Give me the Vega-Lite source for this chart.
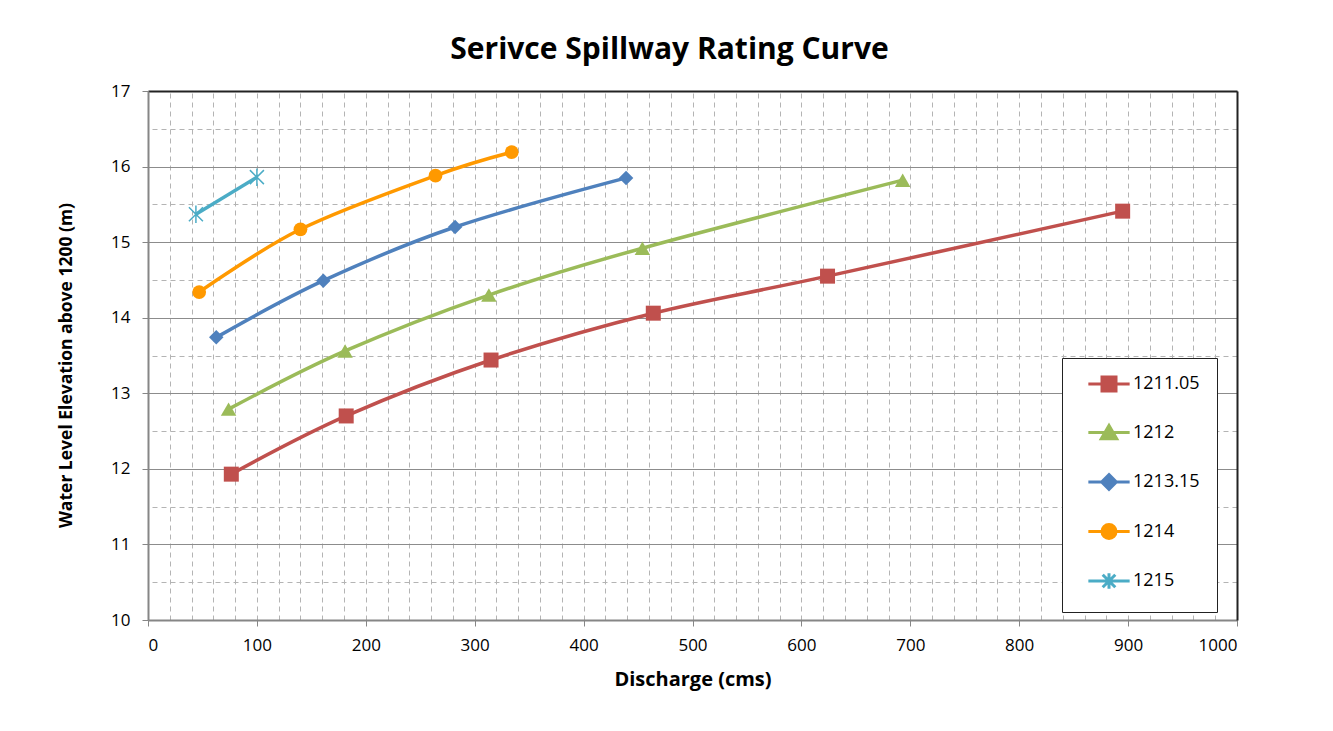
{
  "$schema": "https://vega.github.io/schema/vega-lite/v6.json",
  "autosize": {"type": "none"},
  "padding": {"left": 148, "top": 91, "right": 96, "bottom": 111},
  "width": 1089,
  "height": 529,
  "background": "white",
  "config": {
    "font": "Open Sans",
    "view": {"stroke": null},
    "axis": {"labelFont": "Open Sans", "titleFont": "Open Sans", "labelColor": "black", "titleColor": "black"}
  },
  "title": {
    "text": "Serivce Spillway Rating Curve",
    "fontSize": 30,
    "fontWeight": "bold",
    "font": "Open Sans",
    "color": "black",
    "anchor": "middle",
    "dx": -23,
    "offset": 17
  },
  "data": {
    "values": [
      {"series": "1211.05", "q": 76.5, "h": 11.93},
      {"series": "1211.05", "q": 182, "h": 12.7},
      {"series": "1211.05", "q": 315, "h": 13.44},
      {"series": "1211.05", "q": 464, "h": 14.06},
      {"series": "1211.05", "q": 624, "h": 14.55},
      {"series": "1211.05", "q": 895, "h": 15.41},
      {"series": "1212", "q": 74, "h": 12.79},
      {"series": "1212", "q": 181, "h": 13.56},
      {"series": "1212", "q": 313, "h": 14.3},
      {"series": "1212", "q": 454, "h": 14.92},
      {"series": "1212", "q": 693, "h": 15.82},
      {"series": "1213.15", "q": 62.7, "h": 13.74},
      {"series": "1213.15", "q": 161, "h": 14.49},
      {"series": "1213.15", "q": 282, "h": 15.2},
      {"series": "1213.15", "q": 439, "h": 15.85},
      {"series": "1214", "q": 47, "h": 14.34},
      {"series": "1214", "q": 140, "h": 15.17},
      {"series": "1214", "q": 264, "h": 15.88},
      {"series": "1214", "q": 334, "h": 16.19},
      {"series": "1215", "q": 44, "h": 15.37},
      {"series": "1215", "q": 100, "h": 15.86}
    ]
  },
  "encoding": {
    "x": {"field": "q", "type": "quantitative", "scale": {"domain": [0, 1000], "nice": false, "zero": false}},
    "y": {"field": "h", "type": "quantitative", "scale": {"domain": [10, 17], "nice": false, "zero": false}}
  },
  "layer": [
    {
      "mark": {"type": "line", "interpolate": "cardinal", "strokeWidth": 3.5},
      "encoding": {
        "x": {
          "field": "q", "type": "quantitative",
          "axis": {
            "orient": "bottom", "values": [0, 100, 200, 300, 400, 500, 600, 700, 800, 900, 1000], "format": "d",
            "title": "Discharge (cms)", "titleFontSize": 20, "titleFontWeight": "bold", "titlePadding": 16,
            "grid": false, "domainColor": "#868686", "domainWidth": 2, "tickColor": "#868686", "tickSize": 6,
            "labelFontSize": 17, "labelPadding": 11
          }
        },
        "y": {
          "field": "h", "type": "quantitative",
          "axis": {
            "orient": "left", "values": [10, 11, 12, 13, 14, 15, 16, 17],
            "title": "Water Level Elevation above 1200 (m)", "titleFontSize": 17.5, "titleFontWeight": "bold", "titlePadding": 35, "titleY": 274,
            "grid": true, "gridColor": "#8c8c8c", "gridWidth": 1,
            "domainColor": "#868686", "domainWidth": 2, "tickColor": "#868686", "tickSize": 6,
            "labelFontSize": 17, "labelPadding": 12
          }
        },
        "color": {
          "field": "series", "type": "nominal",
          "scale": {"domain": ["1211.05", "1212", "1213.15", "1214", "1215"], "range": ["#C0504D", "#9BBB59", "#4F81BD", "#FF9900", "#4BACC6"]},
          "legend": null
        }
      }
    },
    {
      "transform": [{"filter": "datum.series === '1211.05'"}],
      "mark": {"type": "point", "shape": "square", "filled": true, "opacity": 1, "size": 225},
      "encoding": {
        "x": {
          "field": "q", "type": "quantitative",
          "axis": {
            "orient": "top", "values": [20, 40, 60, 80, 100, 120, 140, 160, 180, 200, 220, 240, 260, 280, 300, 320, 340, 360, 380, 400, 420, 440, 460, 480, 500, 520, 540, 560, 580, 600, 620, 640, 660, 680, 700, 720, 740, 760, 780, 800, 820, 840, 860, 880, 900, 920, 940, 960, 980],
            "title": null, "labels": false, "ticks": false, "grid": true, "gridDash": [5, 4], "gridColor": "#b4b4b4", "gridWidth": 1,
            "domainColor": "#222222", "domainWidth": 2
          }
        },
        "y": {
          "field": "h", "type": "quantitative",
          "axis": {
            "orient": "right", "values": [10.5, 11.5, 12.5, 13.5, 14.5, 15.5, 16.5],
            "title": null, "labels": false, "ticks": false, "grid": true, "gridDash": [5, 4], "gridColor": "#b4b4b4", "gridWidth": 1,
            "domainColor": "#222222", "domainWidth": 2
          }
        },
        "color": {"field": "series", "type": "nominal", "legend": null}
      }
    },
    {
      "transform": [{"filter": "datum.series === '1212'"}],
      "mark": {"type": "point", "shape": "triangle-up", "filled": true, "opacity": 1, "size": 240},
      "encoding": {
        "x": {"field": "q", "type": "quantitative", "axis": null},
        "y": {"field": "h", "type": "quantitative", "axis": null},
        "color": {"field": "series", "type": "nominal", "legend": null}
      }
    },
    {
      "transform": [{"filter": "datum.series === '1213.15'"}],
      "mark": {"type": "point", "shape": "diamond", "filled": true, "opacity": 1, "size": 210},
      "encoding": {
        "x": {"field": "q", "type": "quantitative", "axis": null},
        "y": {"field": "h", "type": "quantitative", "axis": null},
        "color": {"field": "series", "type": "nominal", "legend": null}
      }
    },
    {
      "transform": [{"filter": "datum.series === '1214'"}],
      "mark": {"type": "point", "shape": "circle", "filled": true, "opacity": 1, "size": 190},
      "encoding": {
        "x": {"field": "q", "type": "quantitative", "axis": null},
        "y": {"field": "h", "type": "quantitative", "axis": null},
        "color": {"field": "series", "type": "nominal", "legend": null}
      }
    },
    {
      "transform": [{"filter": "datum.series === '1215'"}],
      "mark": {"type": "point", "shape": "M-1,-1L1,1M-1,1L1,-1M0,-1.25V1.25", "filled": false, "opacity": 1, "size": 196, "strokeWidth": 1.5},
      "encoding": {
        "x": {"field": "q", "type": "quantitative", "axis": null},
        "y": {"field": "h", "type": "quantitative", "axis": null},
        "color": {"field": "series", "type": "nominal", "legend": null}
      }
    },
    {
      "mark": {"type": "point", "filled": true, "opacity": 0, "size": 10},
      "encoding": {
        "x": {"field": "q", "type": "quantitative", "axis": null},
        "y": {"field": "h", "type": "quantitative", "axis": null},
        "shape": {
          "field": "series", "type": "nominal",
          "scale": {
            "range": [
              "M-2.95,0H2.95M-1,-1H1V1H-1Z",
              "M-2.95,0H2.95M0,-1L1.1,0.9H-1.1Z",
              "M-2.95,0H2.95M0,-1.05L1.05,0L0,1.05L-1.05,0Z",
              "M-2.95,0H2.95M-1,0A1,1,0,1,0,1,0A1,1,0,1,0,-1,0Z",
              "M-2.95,0H2.95M-0.9,-0.9L0.9,0.9M-0.9,0.9L0.9,-0.9M0,-1.1V1.1"
            ]
          },
          "legend": {
            "title": null,
            "orient": "none",
            "legendX": 914,
            "legendY": 267,
            "padding": 17,
            "strokeColor": "#222222",
            "fillColor": "white",
            "symbolSize": 196,
            "symbolOpacity": 1,
            "symbolOffset": 21,
            "labelOffset": 15,
            "labelFontSize": 18,
            "labelFont": "Open Sans",
            "labelColor": "black",
            "rowPadding": 22.5,
            "encoding": {
              "symbols": {
                "fill": {"value": {"expr": "scale('color', datum.value)"}},
                "stroke": {"value": {"expr": "scale('color', datum.value)"}},
                "strokeWidth": {"value": 3},
                "opacity": {"value": 1}
              }
            }
          }
        }
      }
    }
  ]
}
